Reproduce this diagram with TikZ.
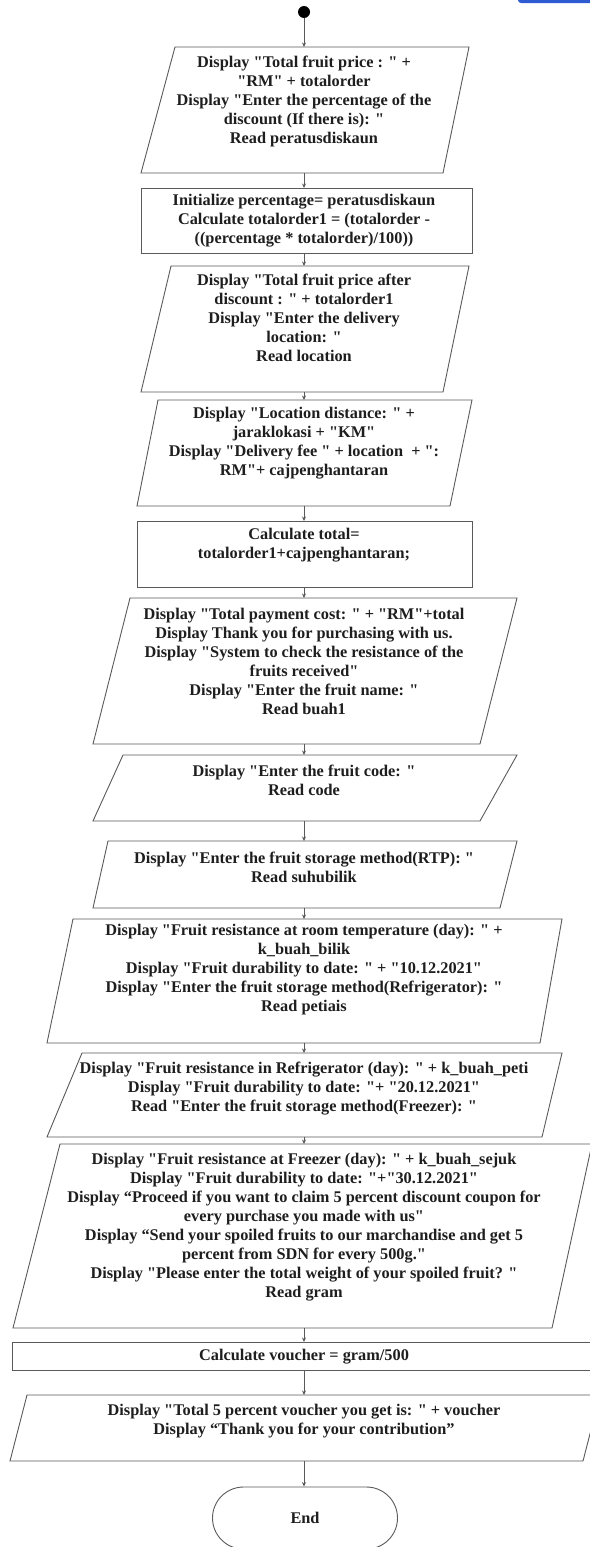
\documentclass[tikz,border=0pt]{standalone}
\usepackage{fontspec}
\setmainfont{Liberation Serif}[Ligatures=TeXOff]
\usetikzlibrary{arrows.meta,fit,shapes.misc}

\definecolor{edge}{HTML}{5A5A5A}
\definecolor{ink}{HTML}{1E1E1E}
\definecolor{tabblue}{HTML}{2F5BD2}

\tikzset{
  boxline/.style={draw=edge, line width=0.9pt},
  frame/.style={inner sep=0pt, outer sep=0pt},
  txt/.style={align=center, text=ink, inner sep=0pt,
    font=\bfseries\fontsize{16.3}{19}\selectfont},
  flow/.style={draw=edge, line width=0.9pt, -{Stealth[length=4.5pt,width=4pt]}},
}

% input/output box: name, top-left x, top-right x, top y, bottom-left x, bottom-right x, bottom y
\newcommand\iobox[7]{%
  \draw[boxline] (#2,#4) -- (#3,#4) -- (#6,#7) -- (#5,#7) -- cycle;
  \node[frame, fit={(#5,#4) (#3,#7)}] (#1) {};
}
% process box: name, x1, y1, x2, y2
\newcommand\calcbox[5]{%
  \draw[boxline] (#2,#3) rectangle (#4,#5);
  \node[frame, fit={(#2,#3) (#4,#5)}] (#1) {};
}

\begin{document}
\begin{tikzpicture}[x=1pt, y=-1pt]
\useasboundingbox (0,0) rectangle (589,1547);
\fill[white] (0,0) rectangle (589,1547);
\fill[tabblue, rounded corners=3pt] (518,-10) rectangle (600,3);

\node[circle, fill=black, minimum size=12pt, inner sep=0pt] (start) at (304,12) {};

\iobox{b1}{175}{469}{47}{141}{443}{173}
\node[txt] (t1) at (304,101) {Display "Total fruit price : " +\\
"RM" + totalorder\\
Display "Enter the percentage of the\\
discount (If there is): "\\
Read peratusdiskaun};

\calcbox{b2}{141}{188}{472}{253}
\node[txt] (t2) at (304,221) {Initialize percentage= peratusdiskaun\\
Calculate totalorder1 = (totalorder -\\
((percentage * totalorder)/100))};

\iobox{b3}{171}{469}{266}{141}{443}{392}
\node[txt] (t3) at (304,318) {Display "Total fruit price after\\
discount : " + totalorder1\\
Display "Enter the delivery\\
location: "\\
Read location};

\iobox{b4}{158}{472}{400}{137}{450}{506}
\node[txt] (t4) at (304,443) {Display "Location distance: " +\\
jaraklokasi + "KM"\\
Display "Delivery fee " + location~ + ":\\
RM"+ cajpenghantaran};

\calcbox{b5}{137}{521}{472}{587}
\node[txt] (t5) at (304,545) {Calculate total=\\
totalorder1+cajpenghantaran;};

\iobox{b6}{130}{517}{598}{93}{480}{744}
\node[txt] (t6) at (304,661) {Display "Total payment cost: " + "RM"+total\\
Display Thank you for purchasing with us.\\
Display "System to check the resistance of the\\
fruits received"\\
Display "Enter the fruit name: "\\
Read buah1};

\iobox{b7}{123}{517}{755}{93}{480}{821}
\node[txt] (t7) at (304,780) {Display "Enter the fruit code: "\\
Read code};

\iobox{b8}{108}{517}{841}{93}{500}{908}
\node[txt] (t8) at (304,867) {Display "Enter the fruit storage method(RTP): "\\
Read suhubilik};

\iobox{b9}{73}{562}{919}{47}{540}{1043}
\node[txt] (t9) at (304,970) {Display "Fruit resistance at room temperature (day): " +\\
k\_buah\_bilik\\
Display "Fruit durability to date: " + "10.12.2021"\\
Display "Enter the fruit storage method(Refrigerator): "\\
Read petiais};

\iobox{b10}{82}{562}{1053}{47}{542}{1137}
\node[txt] (t10) at (304,1089) {Display "Fruit resistance in Refrigerator (day): " + k\_buah\_peti\\
Display "Fruit durability to date: "+ "20.12.2021"\\
Read "Enter the fruit storage method(Freezer): "};

\iobox{b11}{60}{592}{1144}{13}{552}{1328}
\node[txt] (t11) at (304,1227) {Display "Fruit resistance at Freezer (day): " + k\_buah\_sejuk\\
Display "Fruit durability to date: "+"30.12.2021"\\
Display “Proceed if you want to claim 5 percent discount coupon for\\
every purchase you made with us"\\
Display “Send your spoiled fruits to our marchandise and get 5\\
percent from SDN for every 500g."\\
Display "Please enter the total weight of your spoiled fruit? "\\
Read gram};

\calcbox{b12}{12}{1342}{598}{1370}
\node[txt] (t12) at (304,1357) {Calculate voucher = gram/500};

\iobox{b13}{27}{600}{1395}{10}{583}{1461}
\node[txt] (t13) at (304,1421) {Display "Total 5 percent voucher you get is: " + voucher\\
Display “Thank you for your contribution”};

\node[rounded rectangle, boxline, minimum width=185pt, minimum height=62pt,
  txt] (stop) at (305,1518) {End};

\draw[flow] (start) -- (b1.north -| start);
\draw[flow] (b1.south -| start) -- (b2.north -| start);
\draw[flow] (b2.south -| start) -- (b3.north -| start);
\draw[flow] (b3.south -| start) -- (b4.north -| start);
\draw[flow] (b4.south -| start) -- (b5.north -| start);
\draw[flow] (b5.south -| start) -- (b6.north -| start);
\draw[flow] (b6.south -| start) -- (b7.north -| start);
\draw[flow] (b7.south -| start) -- (b8.north -| start);
\draw[flow] (b8.south -| start) -- (b9.north -| start);
\draw[flow] (b9.south -| start) -- (b10.north -| start);
\draw[flow] (b10.south -| start) -- (b11.north -| start);
\draw[flow] (b11.south -| start) -- (b12.north -| start);
\draw[flow] (b12.south -| start) -- (b13.north -| start);
\draw[flow] (b13.south -| start) -- (stop.north -| start);
\end{tikzpicture}
\end{document}
